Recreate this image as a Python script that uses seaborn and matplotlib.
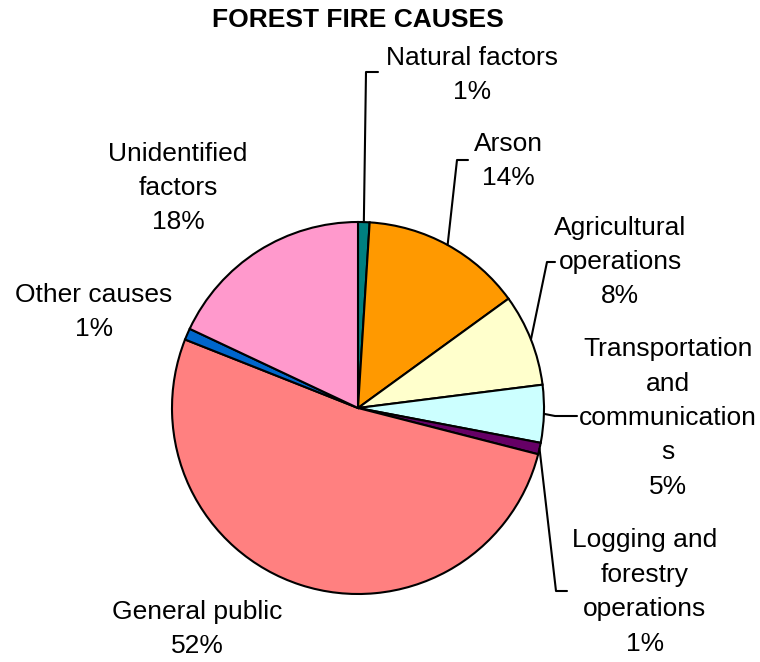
import matplotlib
matplotlib.use('Agg')
import matplotlib.pyplot as plt
import numpy as np
import seaborn as sns
from matplotlib.lines import Line2D

causes = ['Natural factors', 'Arson', 'Agricultural operations',
          'Transportation and communications', 'Logging and forestry operations',
          'General public', 'Other causes', 'Unidentified factors']
label_texts = ['Natural factors', 'Arson', 'Agricultural\noperations',
               'Transportation\nand\ncommunication\ns', 'Logging and\nforestry\noperations',
               'General public', 'Other causes', 'Unidentified\nfactors']
shares = [1, 14, 8, 5, 1, 52, 1, 18]
colors = ['#008080', '#FF9900', '#FFFFCC', '#CCFFFF', '#660066',
          '#FF8080', '#0066CC', '#FF99CC']

sns.set_theme(style='white')
plt.rcParams['font.family'] = ['Liberation Sans', 'DejaVu Sans']

W, H = 760, 662
cx, cy, R = 358, 408, 186

fig = plt.figure(figsize=(W / 100, H / 100), dpi=100)
fig.patch.set_facecolor('white')
ax = fig.add_axes([(cx - R) / W, (H - cy - R) / H, 2 * R / W, 2 * R / H])
ax.pie(shares, colors=colors, startangle=90, counterclock=False, radius=1,
       wedgeprops=dict(edgecolor='black', linewidth=1.5))
ax.set_xlim(-1, 1)
ax.set_ylim(-1, 1)
ax.set_aspect('equal')
ax.axis('off')

fig.text(cx / W, 1 - 20 / H, 'FOREST FIRE CAUSES', ha='center', va='center',
         fontsize=19, fontweight='bold', color='black')

# label block centres (pixels from top-left) and leader line bends
text_pos = [(472, 75), (508, 161), (620, 262), (668, 418), (645, 592),
            (197, 629), (94, 312), (178, 188)]
leaders = [[(366, 72), (378, 72)], [(457, 160), (468, 160)],
           [(547, 262), (555, 262)], [(555, 416), (577, 416)],
           [(556, 591), (567, 591)], None, None, None]

total = sum(shares)
cum = 0
for i, v in enumerate(shares):
    mid = np.deg2rad(90 - 360 * (cum + v / 2) / total)
    cum += v
    tx, ty = text_pos[i]
    fig.text(tx / W, 1 - ty / H, f'{label_texts[i]}\n{v}%', ha='center',
             va='center', fontsize=19, linespacing=1.55, multialignment='center',
             color='black')
    if leaders[i] is not None:
        ex, ey = cx + R * np.cos(mid), cy - R * np.sin(mid)
        pts = [(ex, ey)] + leaders[i]
        xs = [p[0] for p in pts]
        ys = [H - p[1] for p in pts]
        fig.add_artist(Line2D(xs, ys, color='black', lw=1.5, transform=None))

fig.savefig('out.png', dpi=100, facecolor='white')
